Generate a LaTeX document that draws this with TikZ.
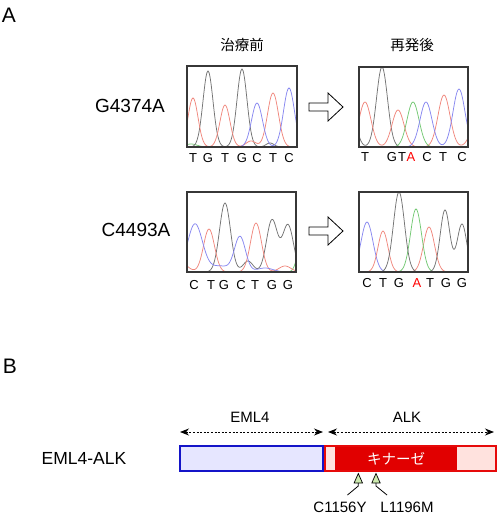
\documentclass[tikz,border=0pt]{standalone}
\usepackage{fontspec}
\setmainfont{Liberation Sans}
\newfontfamily\jpfont{Noto Sans CJK JP}
\usetikzlibrary{arrows.meta}
\definecolor{trT}{RGB}{240,135,125}
\definecolor{trG}{RGB}{115,115,115}
\definecolor{trC}{RGB}{135,135,240}
\definecolor{trA}{RGB}{115,200,115}
\definecolor{boxc}{RGB}{55,55,55}
\definecolor{emlblue}{RGB}{20,20,200}
\definecolor{emlfill}{RGB}{230,230,255}
\definecolor{alkred}{RGB}{230,10,10}
\definecolor{alkfill}{RGB}{255,226,222}
\definecolor{kinred}{RGB}{225,0,0}
\definecolor{mutfill}{RGB}{205,235,175}
\begin{document}
\begin{tikzpicture}[x=1pt,y=-1pt,
  declare function={g(\pa,\pb,\pc)=exp(-0.5*((\pa-\pb)/\pc)*((\pa-\pb)/\pc));},
  chrom/.style={draw=boxc,line width=1.2pt,minimum width=#1,minimum height=80pt,inner sep=0pt},
  trace/.style={line width=0.75pt},
  panel/.style={font=\fontsize{21}{23}\selectfont},
  mutname/.style={font=\fontsize{19}{21}\selectfont},
  fusname/.style={font=\fontsize{17.5}{20}\selectfont},
  title/.style={font=\jpfont\fontsize{14.5}{16}\selectfont},
  seq/.style={font=\fontsize{13}{15}\selectfont,inner sep=0pt},
  seqred/.style={seq,text=red},
  hollow/.style={draw=black,fill=white,line width=0.8pt,line join=miter},
  lbl/.style={font=\fontsize{15}{17}\selectfont},
  dimarrow/.style={{Stealth[length=9pt,width=7pt]}-{Stealth[length=9pt,width=7pt]},line width=0.9pt,dash pattern=on 2pt off 1.6pt},
  emlbox/.style={draw=emlblue,fill=emlfill,line width=1.8pt,minimum width=143pt,minimum height=25pt,inner sep=0pt},
  alkbox/.style={draw=alkred,fill=alkfill,line width=1.4pt,minimum width=171pt,minimum height=25pt,inner sep=0pt},
  kinbox/.style={fill=kinred,minimum width=122pt,minimum height=23.6pt,inner sep=0pt,text=white,font=\jpfont\fontsize{14.5}{16}\selectfont},
  mut/.style={draw=black,fill=mutfill,line width=0.7pt},
]
\useasboundingbox (0,0) rectangle (499,515);

% panel labels
\node[panel] (pA) at (9,15) {A};
\node[panel] (pB) at (10,366) {B};

% titles
\node[title] (t1) at (242,45) {治療前};
\node[title] (t2) at (412,45) {再発後};

% mutation names
\node[mutname] (m1) at (130,106) {G4374A};
\node[mutname] (m2) at (136,230) {C4493A};

% ---------- box 1 ----------
\begin{scope}
\clip (187,66) rectangle (297,147);
\draw[trace,trA] plot[domain=187:297,samples=111,smooth] (\x,{147-3*g(\x,191,6)});
\draw[trace,trG] plot[domain=187:297,samples=111,smooth] (\x,{147-76*g(\x,208,5)-78*g(\x,242,5)-4*g(\x,270,4)});
\draw[trace,trT] plot[domain=187:297,samples=111,smooth] (\x,{147-49*g(\x,193,5)-42*g(\x,225,5)-6*g(\x,251,5)-54*g(\x,273,5.5)});
\draw[trace,trC] plot[domain=187:297,samples=111,smooth] (\x,{147-44*g(\x,257,5.5)-59*g(\x,289,5.5)});
\end{scope}
\node[chrom=110pt,minimum height=81pt] (b1) at (242,106.5) {};

% ---------- box 2 ----------
\begin{scope}
\clip (359,67) rectangle (468,147);
\draw[trace,trG] plot[domain=359:468,samples=110,smooth] (\x,{147-30*g(\x,352,5)-80*g(\x,382,5.5)});
\draw[trace,trT] plot[domain=359:468,samples=110,smooth] (\x,{147-45*g(\x,365,6)-37*g(\x,398,6)-52*g(\x,444,6)-22*g(\x,476,6)});
\draw[trace,trA] plot[domain=359:468,samples=110,smooth] (\x,{147-45*g(\x,413,6)});
\draw[trace,trC] plot[domain=359:468,samples=110,smooth] (\x,{147-45*g(\x,426,6)-58*g(\x,459,6)});
\end{scope}
\node[chrom=109pt] (b2) at (413.5,107) {};

% ---------- box 3 ----------
\begin{scope}
\clip (187,192) rectangle (296,272);
\draw[trace,trA] plot[domain=187:296,samples=110,smooth] (\x,{272-25*g(\x,301,4)});
\draw[trace,trG] plot[domain=187:296,samples=110,smooth] (\x,{272-69*g(\x,225,5.5)-11*g(\x,248,5)-52*g(\x,272,5.5)-47*g(\x,288,5.5)});
\draw[trace,trT] plot[domain=187:296,samples=110,smooth] (\x,{272-10*g(\x,180,7)-43*g(\x,209,5.5)-49*g(\x,256,5.5)-6*g(\x,285,6)});
\draw[trace,trC] plot[domain=187:296,samples=110,smooth] (\x,{272-48*g(\x,195,7.5)-6*g(\x,220,10)-35*g(\x,240,5.5)-4*g(\x,265,8)});
\end{scope}
\node[chrom=109pt] (b3) at (241.5,232) {};

% ---------- box 4 ----------
\begin{scope}
\clip (359,192) rectangle (468,272);
\draw[trace,trC] plot[domain=359:468,samples=110,smooth] (\x,{272-50*g(\x,367,6)});
\draw[trace,trT] plot[domain=359:468,samples=110,smooth] (\x,{272-41*g(\x,383,5)-45*g(\x,429,5.5)});
\draw[trace,trA] plot[domain=359:468,samples=110,smooth] (\x,{272-63*g(\x,416,5.5)});
\draw[trace,trG] plot[domain=359:468,samples=110,smooth] (\x,{272-80*g(\x,399,5.5)-62*g(\x,445,4.8)-48*g(\x,462,4.8)});
\end{scope}
\node[chrom=109pt] (b4) at (413.5,232) {};

% ---------- sequences ----------
\foreach \l/\p [count=\i] in {T/193,G/208,T/225,G/242,C/257,T/273,C/289}
  \node[seq] (sa\i) at (\p,158) {\l};
\foreach \l/\p [count=\i] in {T/365,G/392,T/402,C/427,T/443,C/462}
  \node[seq] (sb\i) at (\p,157) {\l};
\node[seqred] (sbA) at (411,157) {A};
\foreach \l/\p [count=\i] in {C/194,T/211,G/224,C/241,T/255,G/272,G/288}
  \node[seq] (sc\i) at (\p,285) {\l};
\foreach \l/\p [count=\i] in {C/367,T/383,G/399,T/430,G/446,G/462}
  \node[seq] (sd\i) at (\p,283) {\l};
\node[seqred] (sdA) at (417,283) {A};

% ---------- hollow arrows ----------
\coordinate (ar1) at (326,107);
\coordinate (ar2) at (326,231);
\foreach \a in {ar1,ar2}
  \draw[hollow] ([shift={(-17,-4)}]\a) -- ([shift={(2,-4)}]\a) -- ([shift={(2,-14)}]\a)
     -- ([shift={(17,0)}]\a) -- ([shift={(2,14)}]\a) -- ([shift={(2,4)}]\a)
     -- ([shift={(-17,4)}]\a) -- cycle;

% ---------- section B ----------
\node[lbl] (leml) at (250,417) {EML4};
\node[lbl] (lalk) at (407,417) {ALK};
\coordinate (e1) at (180,432);
\coordinate (e2) at (323,432);
\coordinate (k1) at (328,432);
\coordinate (k2) at (494,432);
\draw[dimarrow] (e1) -- (e2);
\draw[dimarrow] (k1) -- (k2);

\node[fusname] (fus) at (84,458) {EML4-ALK};
\node[emlbox] (eml) at (251.5,458.5) {};
\node[alkbox] (alk) at (410.5,458.5) {};
\node[kinbox] (kin) at (396,458.5) {キナーゼ};

% mutation markers
\coordinate (t1a) at (358.3,473.5);
\coordinate (t2a) at (376,473.5);
\draw[mut] (t1a) -- ++(4.2,9.5) -- ++(-8.4,0) -- cycle;
\draw[mut] (t2a) -- ++(4.2,9.5) -- ++(-8.4,0) -- cycle;
\coordinate (t1b) at (358.3,483);
\coordinate (t2b) at (376,483);
\coordinate (c1e) at (347.5,495);
\coordinate (c2e) at (387,495);
\draw[line width=0.8pt] (t1b) -- ++(0,3) -- (c1e);
\draw[line width=0.8pt] (t2b) -- ++(0,3) -- (c2e);
\node[lbl] (mc) at (340,507) {C1156Y};
\node[lbl] (ml) at (407,507) {L1196M};
\end{tikzpicture}
\end{document}
